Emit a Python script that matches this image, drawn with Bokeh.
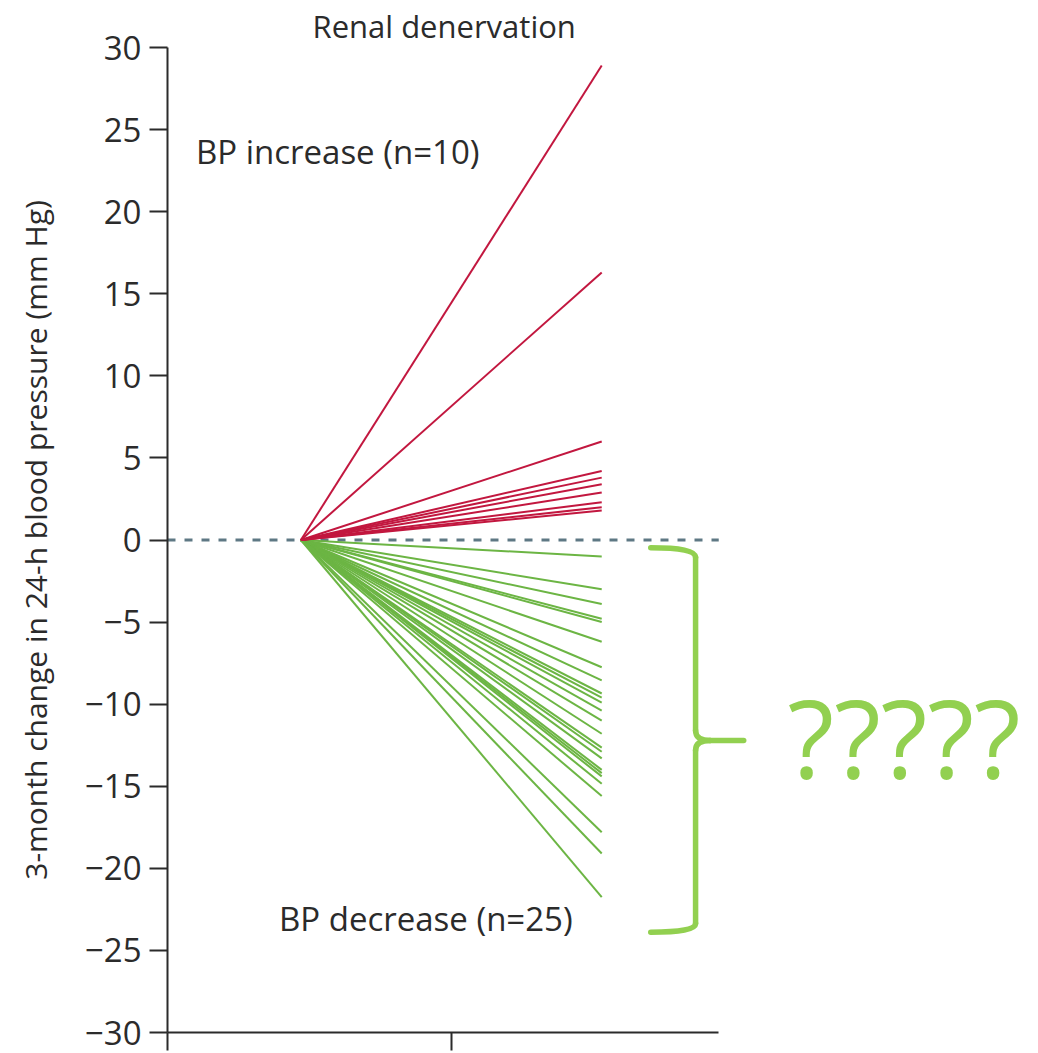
from bokeh.plotting import figure
from bokeh.models import Range1d, FixedTicker, Title
from bokeh.core.properties import value
from bokeh.embed import file_html
from bokeh.resources import INLINE

# ---- data ----
increase_values = [28.9, 16.3, 6.0, 4.2, 3.8, 3.4, 2.9, 2.3, 2.0, 1.8]
decrease_values = [-1.0, -3.0, -3.9, -4.8, -5.0, -6.2, -7.75, -8.55, -9.35, -9.6,
                   -9.9, -10.4, -11.0, -11.8, -12.65, -12.9, -13.3, -14.0, -14.2,
                   -14.4, -14.85, -15.6, -17.8, -19.1, -21.75]
time_points = [0, 1]
y_ticks = [30, 25, 20, 15, 10, 5, 0, -5, -10, -15, -20, -25, -30]
title_text = "Renal denervation"
y_label = "3-month change in 24-h blood pressure (mm Hg)"
inc_label = "BP increase (n=10)"
dec_label = "BP decrease (n=25)"
question_text = "?????"

FONT = "Open Sans"
TXT = "#2b2b2b"
RED = "#c2173f"
GREEN = "#6cb544"
LIGHT_GREEN = "#92d050"

x_left, x_right = -0.4435, 2.452
p = figure(width=1038, height=1053, output_backend="svg", toolbar_location=None,
           x_range=Range1d(x_left, x_right), y_range=Range1d(-30, 30),
           min_border_left=167, min_border_right=0, min_border_top=47,
           min_border_bottom=21, outline_line_color=None)
p.grid.visible = False
p.background_fill_color = "white"
p.border_fill_color = "white"

p.title = Title(text=title_text, align="left", offset=145, text_font=FONT,
                text_font_size="31px", text_font_style="normal", text_color=TXT,
                standoff=2)

# y axis
ya = p.yaxis[0]
ya.ticker = FixedTicker(ticks=y_ticks)
ya.major_label_overrides = {t: (("\u2212" + str(-t)) if t < 0 else str(t)) for t in y_ticks}
ya.minor_tick_line_color = None
ya.major_tick_out = 18
ya.major_tick_in = 0
ya.axis_line_width = 2
ya.major_tick_line_width = 2
ya.axis_line_color = TXT
ya.major_tick_line_color = TXT
ya.major_label_text_font = FONT
ya.major_label_text_font_size = "33px"
ya.major_label_text_color = TXT
ya.major_label_standoff = 8
ya.axis_label = y_label
ya.axis_label_text_font = FONT
ya.axis_label_text_font_style = "normal"
ya.axis_label_text_font_size = "30px"
ya.axis_label_text_color = TXT
ya.axis_label_standoff = 26

# x axis
axis_end = 1.389
xa = p.xaxis[0]
xa.bounds = (x_left, axis_end)
xa.ticker = FixedTicker(ticks=[x_left, 0.5])
xa.major_label_overrides = {x_left: "", 0.5: ""}
xa.major_label_text_font_size = "1px"
xa.major_label_standoff = 0
xa.minor_tick_line_color = None
xa.major_tick_out = 18
xa.major_tick_in = 0
xa.axis_line_width = 2
xa.major_tick_line_width = 2
xa.axis_line_color = TXT
xa.major_tick_line_color = TXT

# zero reference line
p.line([x_left, axis_end], [0, 0], line_color="#5e7884", line_width=3, line_dash="8 9")

# data lines
p.multi_line([time_points] * len(decrease_values), [[0, v] for v in decrease_values],
             line_color=GREEN, line_width=2)
p.multi_line([time_points] * len(increase_values), [[0, v] for v in increase_values],
             line_color=RED, line_width=2)

# texts
p.text(x=[-0.349], y=[23.66], text=[inc_label], text_font=value(FONT),
       text_font_size="33px", text_baseline="middle", text_color=TXT)
p.text(x=[-0.073], y=[-23.05], text=[dec_label], text_font=value(FONT),
       text_font_size="33px", text_baseline="middle", text_color=TXT)

# bracket
bx0, bx1, bx2, bxm = 1.163, 1.312, 1.472, 1.36
yt0, yt1, ytip, yb1, yb0 = -0.475, -1.05, -12.21, -23.36, -23.89
yv1, yv2 = -11.6, -12.8
bw = 5.5
p.quadratic(x0=[bx0], y0=[yt0], x1=[bx1], y1=[yt1], cx=[bx1], cy=[yt0],
            line_color=LIGHT_GREEN, line_width=bw, line_cap="round")
p.segment(x0=[bx1], y0=[yt1], x1=[bx1], y1=[yv1], line_color=LIGHT_GREEN,
          line_width=bw, line_cap="round")
p.quadratic(x0=[bx1], y0=[yv1], x1=[bxm], y1=[ytip], cx=[bx1], cy=[ytip],
            line_color=LIGHT_GREEN, line_width=bw, line_cap="round")
p.segment(x0=[bxm], y0=[ytip], x1=[bx2], y1=[ytip], line_color=LIGHT_GREEN,
          line_width=bw, line_cap="round")
p.quadratic(x0=[bxm], y0=[ytip], x1=[bx1], y1=[yv2], cx=[bx1], cy=[ytip],
            line_color=LIGHT_GREEN, line_width=bw, line_cap="round")
p.segment(x0=[bx1], y0=[yv2], x1=[bx1], y1=[yb1], line_color=LIGHT_GREEN,
          line_width=bw, line_cap="round")
p.quadratic(x0=[bx1], y0=[yb1], x1=[bx0], y1=[yb0], cx=[bx1], cy=[yb0],
            line_color=LIGHT_GREEN, line_width=bw, line_cap="round")

p.text(x=[1.618], y=[-12.0], text=[question_text], text_font=value(FONT),
       text_font_size="108px", text_baseline="middle", text_color=LIGHT_GREEN)

open("out.html", "w").write(file_html(p, INLINE))
